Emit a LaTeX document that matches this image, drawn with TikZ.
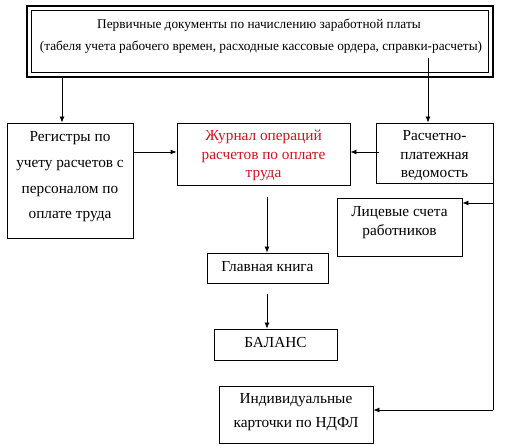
\documentclass[tikz,border=0pt]{standalone}
\usepackage{fontspec}
\setmainfont{Liberation Serif}
\usetikzlibrary{arrows.meta}
\definecolor{jred}{RGB}{205,20,30}
\begin{document}
\begin{tikzpicture}[x=1pt,y=-1pt,
  box/.style={draw,line width=0.8pt,inner sep=0pt},
  txt/.style={align=center,font=\fontsize{15.3}{18.5}\selectfont,inner sep=0pt},
  toptxt/.style={align=center,font=\fontsize{13.3}{16}\selectfont,inner sep=0pt},
  arr/.style={line width=0.8pt,-{Latex[length=6pt,width=5pt]}},
  ln/.style={line width=0.8pt}]
\useasboundingbox (0,0) rectangle (512,446);
% top double box
\node[box,line width=1.6pt,minimum width=466pt,minimum height=71pt] (top) at (260,41.5) {};
\node[box,line width=0.8pt,minimum width=457pt,minimum height=62pt] (topin) at (260,41.5) {};
\node[toptxt] (toptxt) at (259,25.5) {Первичные документы по начислению заработной платы};
\node[toptxt] (toptxt2) at (261,47) {(табеля учета рабочего времен, расходные кассовые ордера, справки-расчеты)};
% boxes
\node[box,minimum width=126pt,minimum height=115pt] (reg) at (70,180.5) {};
\node[txt,font=\fontsize{15.3}{25.7}\selectfont] (regt) at (70,177) {Регистры по\\учету расчетов с\\персоналом по\\оплате труда};
\node[box,minimum width=173pt,minimum height=62pt] (jour) at (263.5,154) {};
\node[txt,text=jred] (jourt) at (263.5,155.5) {Журнал операций\\расчетов по оплате\\труда};
\node[box,minimum width=117pt,minimum height=60pt] (rasch) at (434.5,153) {};
\node[txt] (rascht) at (434.5,155.5) {Расчетно-\\платежная\\ведомость};
\node[box,minimum width=125pt,minimum height=58pt] (lic) at (399.5,227) {};
\node[txt] (lict) at (399.5,222.5) {Лицевые счета\\работников};
\node[box,minimum width=121pt,minimum height=30pt] (glav) at (267.5,268) {};
\node[txt] (glavt) at (267.5,267) {Главная книга};
\node[box,minimum width=123pt,minimum height=31pt] (bal) at (275.5,344.5) {};
\node[txt] (balt) at (275.5,343) {БАЛАНС};
\node[box,minimum width=154pt,minimum height=57pt] (ind) at (296,414.5) {};
\node[txt,font=\fontsize{15.3}{24}\selectfont] (indt) at (296,412) {Индивидуальные\\карточки по НДФЛ};
% helper coordinates
\coordinate (yA) at (0,152);
\coordinate (yB) at (0,203);
\coordinate (yC) at (0,410);
\coordinate (xL) at (62,0);
\coordinate (xR) at (428,0);
\coordinate (xJ) at (267,0);
% connectors
\draw[arr] (xL |- top.south) -- (xL |- reg.north);
\draw[arr] ([yshift=20pt]xR |- top.south) -- (xR |- rasch.north);
\draw[arr] (reg.east |- yA) -- (jour.west |- yA);
\draw[arr] ([xshift=3pt]rasch.west |- yA) -- (jour.east |- yA);
\draw[arr] ([yshift=-12pt]xJ |- jour.south) -- (xJ |- glav.north);
\draw[arr] ([yshift=-11pt]xJ |- glav.south) -- (xJ |- bal.north);
\draw[ln] (rasch.south east) -- (rasch.south east |- yC);
\draw[arr] (rasch.south east |- yB) -- (lic.east |- yB);
\draw[arr] (rasch.south east |- yC) -- (ind.east |- yC);
\end{tikzpicture}
\end{document}
